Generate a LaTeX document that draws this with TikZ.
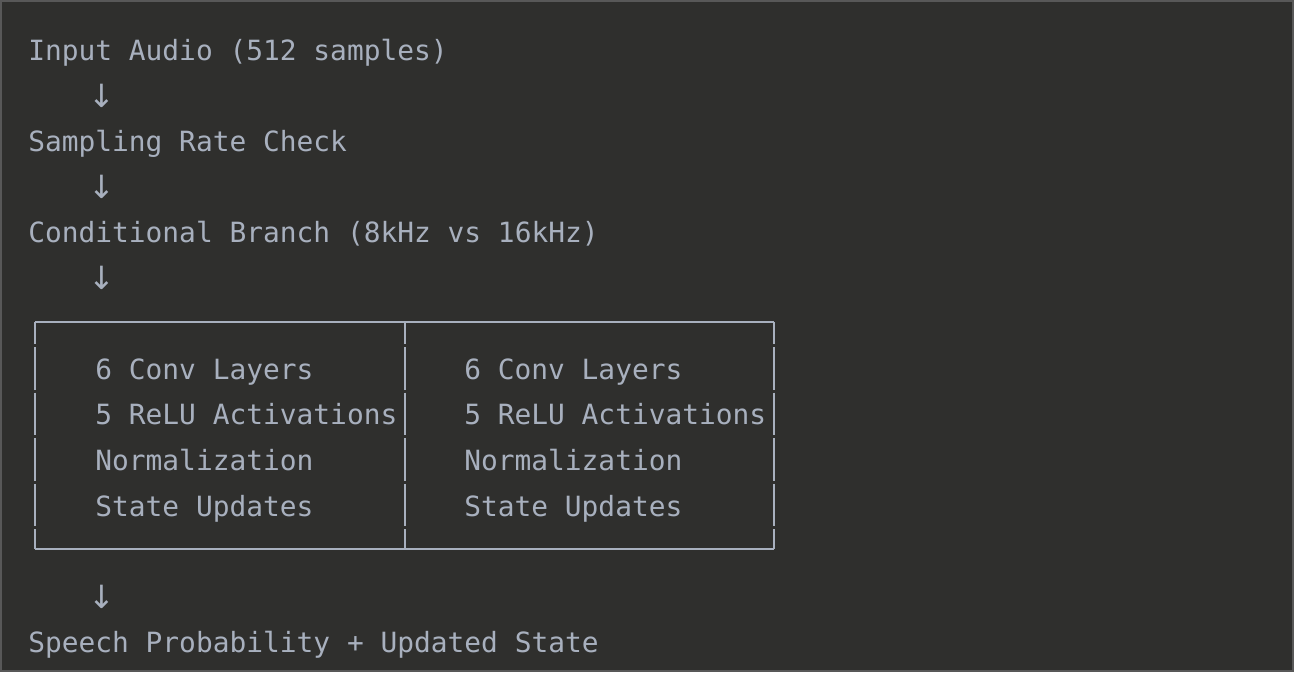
\documentclass[tikz,border=0pt]{standalone}
\usepackage{fontspec}
\setmonofont{DejaVu Sans Mono}
\newfontfamily\arrowfont{DejaVu Sans}
\definecolor{bg}{HTML}{2F2F2D}
\definecolor{frame}{HTML}{585858}
\definecolor{fg}{HTML}{A8B0BE}
\tikzset{
  code/.style={font=\ttfamily\fontsize{20.9}{25}\selectfont, text=fg, inner sep=0pt, anchor=base west},
  downarrow/.style={font=\arrowfont\fontsize{24}{28}\selectfont, text=fg, inner sep=0pt, anchor=center},
  boxline/.style={draw=fg, line width=1.6pt},
}
\begin{document}
\begin{tikzpicture}[x=0.75pt, y=-0.75pt]
\useasboundingbox (0,0) rectangle (1294,672);
\fill[bg] (0,0) rectangle (1294,672);
\draw[frame, line width=1.5pt] (1,1) rectangle (1293,671);
% text lines (monospace grid: column width 16.77px, row pitch 45.6px)
\node[code] (input) at (28,60) {Input Audio (512 samples)};
\node[downarrow] (a1) at (102,96) {↓};
\node[code] (rate) at (28,151.2) {Sampling Rate Check};
\node[downarrow] (a2) at (102,187) {↓};
\node[code] (branch) at (28,242.4) {Conditional Branch (8kHz vs 16kHz)};
\node[downarrow] (a3) at (102,278) {↓};
% left branch
\node[code] (l1) at (95.1,379.2) {6 Conv Layers};
\node[code] (l2) at (95.1,424.8) {5 ReLU Activations};
\node[code] (l3) at (95.1,470.4) {Normalization};
\node[code] (l4) at (95.1,516) {State Updates};
% right branch
\node[code] (r1) at (464,379.2) {6 Conv Layers};
\node[code] (r2) at (464,424.8) {5 ReLU Activations};
\node[code] (r3) at (464,470.4) {Normalization};
\node[code] (r4) at (464,516) {State Updates};
\node[downarrow] (a4) at (102,597) {↓};
\node[code] (out) at (28,652.8) {Speech Probability + Updated State};
% box drawn with box-drawing style segments
\draw[boxline] (35.4,322) -- (774.3,322);
\draw[boxline] (35.4,549) -- (774.3,549);
\foreach \x in {35.4,405.3,774.3}{
  \draw[boxline] (\x,322) -- (\x,344);
  \draw[boxline] (\x,347) -- (\x,389.6);
  \draw[boxline] (\x,392.6) -- (\x,435.2);
  \draw[boxline] (\x,438.2) -- (\x,480.8);
  \draw[boxline] (\x,483.8) -- (\x,526.4);
  \draw[boxline] (\x,529.4) -- (\x,549);
}
\end{tikzpicture}
\end{document}
